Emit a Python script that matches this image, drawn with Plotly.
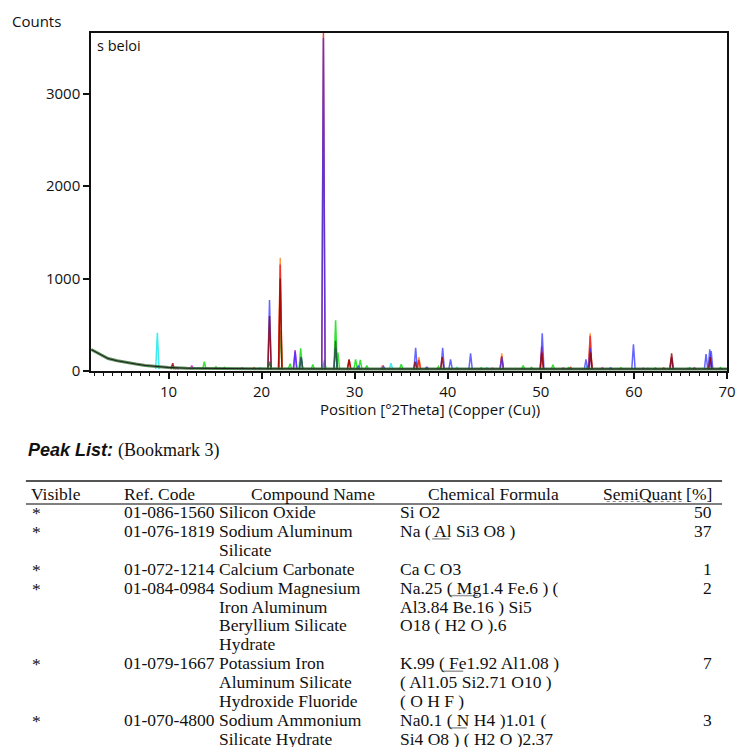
import plotly.graph_objects as go

# ---------------- data ----------------
bg_x = [1.7, 2.5, 3.5, 4.5, 5.5, 6.5, 7.5, 8.5, 10, 12, 15, 20, 30, 40, 50, 60, 70]
bg_y = [232, 185, 135, 110, 90, 75, 60, 48, 38, 30, 26, 24, 22, 22, 22, 22, 22]

peaks_cyan_x = [8.8, 19.8, 26.6, 33.9, 36.6, 41.0, 44.2, 55.0, 61.5, 65.8]
peaks_cyan_y = [414, 35, 80, 84, 100, 40, 35, 60, 30, 32]

peaks_green_x = [13.85, 15.1, 16.0, 22.05, 23.05, 24.2, 25.5, 26.75, 27.95, 28.2, 30.1, 30.6, 31.3,
                 35.0, 39.0, 43.6, 48.1, 49.0, 51.3, 53.0, 58.6, 62.3, 66.0, 69.3]
peaks_green_y = [100, 45, 40, 443, 80, 245, 70, 120, 548, 200, 126, 120, 60,
                 74, 50, 35, 60, 40, 68, 38, 35, 34, 36, 38]

peaks_magenta_x = [10.9, 12.5, 17.9, 23.6, 33.0, 37.8, 44.8, 52.4, 56.6, 61.0, 66.5]
peaks_magenta_y = [35, 60, 35, 227, 60, 40, 32, 34, 36, 30, 35]

peaks_orange_x = [22.0, 33.0, 36.9, 45.8, 55.3, 64.0]
peaks_orange_y = [1225, 50, 150, 191, 407, 140]

peaks_red_x = [10.4, 19.2, 22.0, 26.64, 29.4, 36.9, 45.8, 50.1, 53.2, 55.3, 63.2]
peaks_red_y = [60, 35, 1150, 3654, 120, 120, 160, 263, 40, 380, 34]

peaks_blue_x = [20.85, 23.6, 24.25, 26.64, 27.95, 30.4, 33.1, 36.55, 37.7, 39.45, 40.3, 42.45, 45.8,
                50.15, 54.85, 55.3, 57.5, 59.95, 64.05, 67.75, 68.15, 68.3]
peaks_blue_y = [766, 210, 150, 3600, 250, 60, 50, 252, 40, 252, 126, 191, 150,
                407, 126, 250, 35, 288, 150, 184, 234, 215]

peaks_darkred_x = [10.45, 20.85, 22.0, 29.4, 36.5, 39.4, 50.1, 55.35, 64.05, 68.2]
peaks_darkred_y = [85, 594, 1000, 126, 100, 150, 200, 200, 191, 150]

peaks_darkgreen_x = [20.85, 24.25, 27.95]
peaks_darkgreen_y = [100, 150, 327]

y_ticks = [0, 1000, 2000, 3000]
x_ticks = [10, 20, 30, 40, 50, 60, 70]

visible = ["*", "*", "*", "*", "*", "*"]
ref_codes = ["01-086-1560", "01-076-1819", "01-072-1214", "01-084-0984", "01-079-1667", "01-070-4800"]
compound_names = [
    ["Silicon Oxide"],
    ["Sodium Aluminum", "Silicate"],
    ["Calcium Carbonate"],
    ["Sodium Magnesium", "Iron Aluminum", "Beryllium Silicate", "Hydrate"],
    ["Potassium Iron", "Aluminum Silicate", "Hydroxide Fluoride"],
    ["Sodium Ammonium", "Silicate Hydrate"],
]
formulas = [
    ["Si O2"],
    ["Na ( Al Si3 O8 )"],
    ["Ca C O3"],
    ["Na.25 ( Mg1.4 Fe.6 ) (", "Al3.84 Be.16 ) Si5", "O18 ( H2 O ).6"],
    ["K.99 ( Fe1.92 Al1.08 )", "( Al1.05 Si2.71 O10 )", "( O H F )"],
    ["Na0.1 ( N H4 )1.01 (", "Si4 O8 ) ( H2 O )2.37"],
]
semiquant = [50, 37, 1, 2, 7, 3]
headers = ["Visible", "Ref. Code", "Compound Name", "Chemical Formula", "SemiQuant [%]"]

# ---------------- layout constants ----------------
W, H = 739, 747
PL, PR, PT, PB = 91, 736, 33, 371
BASE = 20
HW = 0.18


def px(x):
    return (x - PL) / (PR - PL)


def py(y):
    return (PB - y) / (PB - PT)


def spikes(xs, ys):
    X, Y = [], []
    for p, h in zip(xs, ys):
        X += [p - HW, p, p + HW, None]
        Y += [BASE, h, BASE, None]
    return X, Y


fig = go.Figure()

series = [
    (peaks_cyan_x, peaks_cyan_y, "rgba(40,235,235,0.9)"),
    (peaks_green_x, peaks_green_y, "rgba(30,225,30,0.9)"),
    (peaks_magenta_x, peaks_magenta_y, "rgba(225,30,225,0.9)"),
    (peaks_orange_x, peaks_orange_y, "rgba(255,150,60,0.95)"),
    (peaks_red_x, peaks_red_y, "rgba(240,40,40,0.9)"),
    (peaks_blue_x, peaks_blue_y, "rgba(50,50,255,0.75)"),
    (peaks_darkred_x, peaks_darkred_y, "rgba(150,0,0,0.8)"),
    (peaks_darkgreen_x, peaks_darkgreen_y, "rgba(40,90,40,0.8)"),
]
for xs, ys, col in series:
    X, Y = spikes(xs, ys)
    fig.add_trace(go.Scatter(x=X, y=Y, mode="lines", line=dict(color=col, width=1.5),
                             hoverinfo="skip", showlegend=False))

fig.add_trace(go.Scatter(x=bg_x, y=bg_y, mode="lines", line=dict(color="rgba(60,120,60,0.85)", width=3),
                         hoverinfo="skip", showlegend=False))
fig.add_trace(go.Scatter(x=bg_x, y=bg_y, mode="lines", line=dict(color="rgba(20,20,20,0.9)", width=1),
                         hoverinfo="skip", showlegend=False))

ann = []
SANS = "Open Sans"
SERIF = "Liberation Serif"
ann.append(dict(x=px(9), y=py(21), text="Counts", xanchor="left", yanchor="middle",
                font=dict(family=SANS, size=15, color="#111")))
ann.append(dict(x=px(95), y=py(46), text="s beloi", xanchor="left", yanchor="middle",
                font=dict(family=SANS, size=14.5, color="#111")))
ann.append(dict(x=px(435), y=py(409), text="Position [°2Theta] (Copper (Cu))", xanchor="center",
                yanchor="middle", font=dict(family=SANS, size=15, color="#111")))
ann.append(dict(x=px(25), y=py(451),
                text="<b><i>Peak List:</i></b> <span style='font-family:Liberation Serif'>(Bookmark 3)</span>",
                xanchor="left", yanchor="middle", font=dict(family="Liberation Sans", size=18, color="#111")))

FS = 17.5
TF = dict(family=SERIF, size=FS, color="#111")
HEAD_Y = 494
ann.append(dict(x=px(28), y=py(HEAD_Y), text=headers[0], xanchor="left", yanchor="middle", font=TF))
ann.append(dict(x=px(122), y=py(HEAD_Y), text=headers[1], xanchor="left", yanchor="middle", font=TF))
ann.append(dict(x=px(316), y=py(HEAD_Y), text=headers[2], xanchor="center", yanchor="middle", font=TF))
ann.append(dict(x=px(499), y=py(HEAD_Y), text=headers[3], xanchor="center", yanchor="middle", font=TF))
ann.append(dict(x=px(723), y=py(HEAD_Y), text=headers[4], xanchor="right", yanchor="middle", font=TF))

ROW0, LH = 512, 18.9
FX = 402
row_y = []
line = 0
for i in range(len(ref_codes)):
    y0 = ROW0 + LH * line
    row_y.append(y0)
    ann.append(dict(x=px(29), y=py(y0 + 1), text=visible[i], xanchor="left", yanchor="middle", font=TF))
    ann.append(dict(x=px(122), y=py(y0), text=ref_codes[i], xanchor="left", yanchor="middle", font=TF))
    ann.append(dict(x=px(723), y=py(y0), text=str(semiquant[i]), xanchor="right", yanchor="middle", font=TF))
    for k, t in enumerate(compound_names[i]):
        ann.append(dict(x=px(219), y=py(y0 + LH * k), text=t, xanchor="left", yanchor="middle", font=TF))
    for k, t in enumerate(formulas[i]):
        ann.append(dict(x=px(FX), y=py(y0 + LH * k), text=t, xanchor="left", yanchor="middle", font=TF))
    line += max(len(compound_names[i]), len(formulas[i]))

for a in ann:
    a.update(xref="paper", yref="paper", showarrow=False)

shapes = [
    dict(type="line", xref="paper", yref="paper", x0=px(25), x1=px(731), y0=py(481), y1=py(481),
         line=dict(color="#555", width=2)),
    dict(type="line", xref="paper", yref="paper", x0=px(25), x1=px(731), y0=py(504), y1=py(504),
         line=dict(color="#555", width=1.5)),
    # dotted proofing mark under "SemiQuant"
    dict(type="line", xref="paper", yref="paper", x0=px(614), x1=px(692), y0=py(501.5), y1=py(501.5),
         line=dict(color="#888", width=1, dash="dot")),
]
# proofing underlines in the formula column (em offsets in Times metrics)
marks = [(1, 2.0, 3.0), (3, 3.0, 4.64), (4, 2.55, 3.8), (5, 3.0, 4.0)]
for r, e0, e1 in marks:
    yy = row_y[r] + 8
    shapes.append(dict(type="line", xref="paper", yref="paper", x0=px(FX + e0 * FS), x1=px(FX + e1 * FS),
                       y0=py(yy), y1=py(yy), line=dict(color="#999", width=1.5)))

fig.update_layout(
    width=W, height=H, autosize=False,
    margin=dict(l=PL, r=W - PR, t=PT, b=H - PB, pad=0),
    paper_bgcolor="white", plot_bgcolor="white",
    font=dict(family=SANS, size=14, color="#111"),
    annotations=ann, shapes=shapes,
    xaxis=dict(range=[1.67, 70], tickvals=x_ticks, ticks="outside", ticklen=6, tickwidth=1.5,
               tickcolor="#111", showgrid=False, zeroline=False, showline=True, mirror=True,
               linecolor="#111", linewidth=1.5, tickfont=dict(family=SANS, size=15, color="#111"),
               ticklabeloverflow="allow",
               minor=dict(dtick=1, tick0=0, ticks="outside", ticklen=3, tickwidth=1, tickcolor="#111")),
    yaxis=dict(range=[0, 3654], tickvals=y_ticks, ticks="outside", ticklen=6, tickwidth=1.5,
               tickcolor="#111", showgrid=False, zeroline=False, showline=True, mirror=True,
               linecolor="#111", linewidth=1.5, tickfont=dict(family=SANS, size=15, color="#111")),
)

fig.write_html("out.html", config={"displayModeBar": False},
               post_script="document.body.style.margin='0px';document.body.style.overflow='hidden';")
